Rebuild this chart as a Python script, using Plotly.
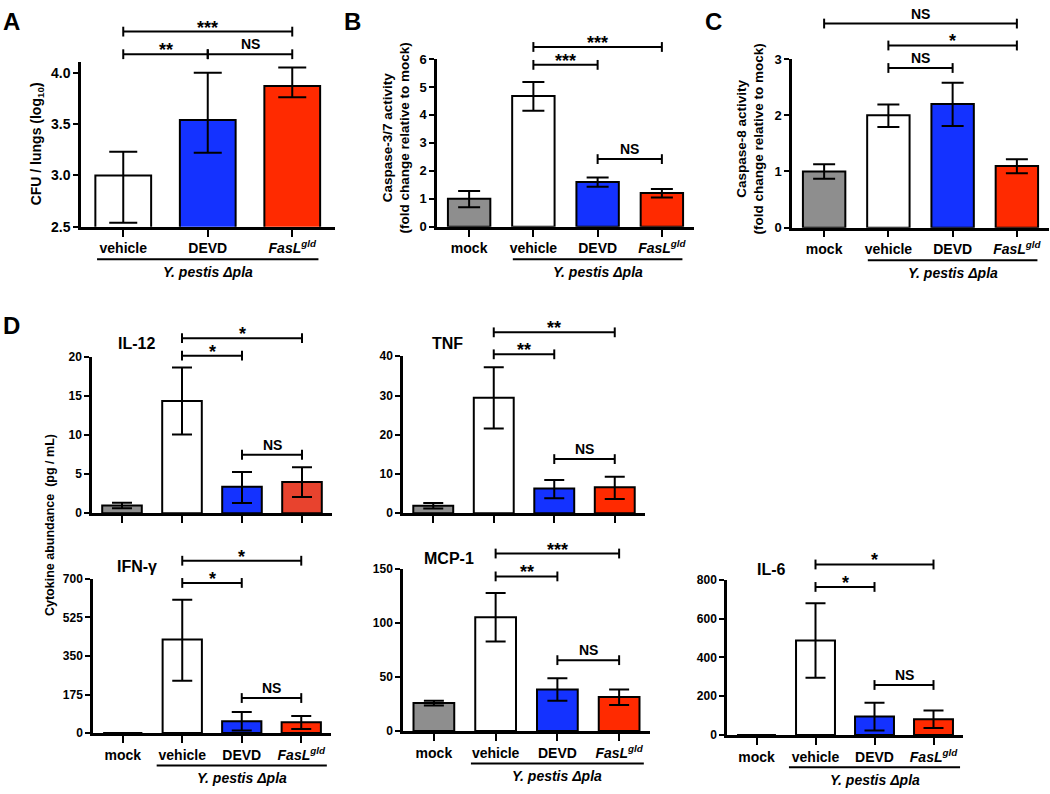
import plotly.graph_objects as go

# x categories
cats3 = ["vehicle", "DEVD", "<i>FasL<sup>gld</sup></i>"]
cats4 = ["mock", "vehicle", "DEVD", "<i>FasL<sup>gld</sup></i>"]

# A: CFU / lungs (log10) -- mean, upper and lower end of error bar
cfu_mean = [3.00, 3.54, 3.87]
cfu_hi = [3.23, 4.00, 4.05]
cfu_lo = [2.54, 3.22, 3.76]

# B: caspase-3/7 activity (fold change)
c37_mean = [1.00, 4.68, 1.60, 1.21]
c37_hi = [1.28, 5.18, 1.76, 1.35]
c37_lo = [0.70, 4.15, 1.43, 1.05]

# C: caspase-8 activity (fold change)
c8_mean = [1.00, 2.00, 2.20, 1.10]
c8_hi = [1.13, 2.19, 2.58, 1.22]
c8_lo = [0.87, 1.79, 1.81, 0.97]

# D: cytokines (pg / mL)
il12_mean = [1.0, 14.4, 3.4, 4.0]
il12_hi = [1.35, 18.7, 5.3, 5.9]
il12_lo = [0.65, 10.1, 1.3, 2.1]

tnf_mean = [1.9, 29.4, 6.3, 6.6]
tnf_hi = [2.6, 37.2, 8.5, 9.3]
tnf_lo = [1.2, 21.6, 3.8, 3.6]

ifn_mean = [0, 425, 54, 49]
ifn_hi = [0, 606, 95, 77]
ifn_lo = [0, 238, 12, 18]

mcp_mean = [26, 105.5, 38.5, 31.5]
mcp_hi = [28, 128, 49, 38.5]
mcp_lo = [23.7, 83, 28, 24.2]

il6_mean = [0, 487, 95, 81]
il6_hi = [0, 680, 166, 126]
il6_lo = [0, 296, 23, 36]

# significance brackets: (from group, to group, height in data units, label)
sig_a = [(0, 2, 4.40, "***"), (0, 1, 4.18, "**"), (1, 2, 4.18, "NS")]
sig_b = [(1, 3, 6.43, "***"), (1, 2, 5.79, "***"), (2, 3, 2.42, "NS")]
sig_c = [(0, 3, 3.63, "NS"), (1, 3, 3.24, "*"), (1, 2, 2.84, "NS")]
sig_il12 = [(1, 3, 22.45, "*"), (1, 2, 20.2, "*"), (2, 3, 7.5, "NS")]
sig_tnf = [(1, 3, 46.1, "**"), (1, 2, 40.5, "**"), (2, 3, 13.8, "NS")]
sig_ifn = [(1, 3, 783, "*"), (1, 2, 682, "*"), (2, 3, 159, "NS")]
sig_mcp = [(1, 3, 164.5, "***"), (1, 2, 143.3, "**"), (2, 3, 65.7, "NS")]
sig_il6 = [(1, 3, 880, "*"), (1, 2, 764, "*"), (2, 3, 258, "NS")]

GREY = "#8e8e8e"
WHITE = "#ffffff"
BLUE = "#1432ff"
RED = "#ff2a00"
RED2 = "#e8432e"
FONT = "Arial, Liberation Sans, Helvetica, sans-serif"

W, H = 1050, 794

# panel layout in pixels: (left, right), (top, bottom)
panels = [
    dict(cats=cats3, m=cfu_mean, hi=cfu_hi, lo=cfu_lo, col=[WHITE, BLUE, RED],
         px=(81, 334.5), py=(56.5, 224), yr=[2.5, 4.1], dt=0.5, fmt=".1f",
         sig=sig_a, cap=14, tf=14, labels=True, grp=0.31),
    dict(cats=cats4, m=c37_mean, hi=c37_hi, lo=c37_lo, col=[GREY, WHITE, BLUE, RED],
         px=(437, 694), py=(53, 224), yr=[0, 6], dt=1, fmt="d",
         sig=sig_b, cap=11, tf=13, labels=True, grp=0.32),
    dict(cats=cats4, m=c8_mean, hi=c8_hi, lo=c8_lo, col=[GREY, WHITE, BLUE, RED],
         px=(792, 1049), py=(53, 225), yr=[0, 3], dt=1, fmt="d",
         sig=sig_c, cap=11, tf=13, labels=True, grp=0.32),
    dict(cats=cats4, m=il12_mean, hi=il12_hi, lo=il12_lo, col=[GREY, WHITE, BLUE, RED2],
         px=(92, 332), py=(357, 516), yr=[0, 20], dt=5, fmt="d",
         sig=sig_il12, cap=10, tf=12, labels=False, grp=None),
    dict(cats=cats4, m=tnf_mean, hi=tnf_hi, lo=tnf_lo, col=[GREY, WHITE, BLUE, RED],
         px=(403, 645), py=(356, 516), yr=[0, 40], dt=10, fmt="d",
         sig=sig_tnf, cap=10, tf=12, labels=False, grp=None),
    dict(cats=cats4, m=ifn_mean, hi=ifn_hi, lo=ifn_lo, col=[GREY, WHITE, BLUE, RED],
         px=(93, 331), py=(583, 740), yr=[0, 700], dt=175, fmt="d",
         sig=sig_ifn, cap=10, tf=12, labels=True, grp=0.43),
    dict(cats=cats4, m=mcp_mean, hi=mcp_hi, lo=mcp_lo, col=[GREY, WHITE, BLUE, RED],
         px=(403, 650), py=(573, 738), yr=[0, 150], dt=50, fmt="d",
         sig=sig_mcp, cap=10, tf=12, labels=True, grp=0.40),
    dict(cats=cats4, m=il6_mean, hi=il6_hi, lo=il6_lo, col=[GREY, WHITE, BLUE, RED],
         px=(727, 963), py=(584, 742), yr=[0, 800], dt=200, fmt="d",
         sig=sig_il6, cap=10, tf=12, labels=True, grp=0.45),
]

fig = go.Figure()
shapes = []
annos = []


def line(xref, yref, x0, y0, x1, y1, w=2):
    shapes.append(dict(type="line", xref=xref, yref=yref, x0=x0, y0=y0, x1=x1, y1=y1,
                       line=dict(color="black", width=w)))


for k, p in enumerate(panels, start=1):
    xa = "x" if k == 1 else "x%d" % k
    ya = "y" if k == 1 else "y%d" % k
    n = len(p["cats"])
    fig.add_trace(go.Bar(
        x=p["cats"], y=p["m"], xaxis=xa, yaxis=ya, width=0.66, showlegend=False,
        marker=dict(color=p["col"], line=dict(color="black", width=2)),
        error_y=dict(type="data", symmetric=False,
                     array=[h - m for h, m in zip(p["hi"], p["m"])],
                     arrayminus=[m - l for m, l in zip(p["m"], p["lo"])],
                     color="black", thickness=2, width=p["cap"]),
    ))
    left, right = p["px"]
    top, bottom = p["py"]
    hpx = bottom - top
    fig.update_layout(**{
        ("xaxis" if k == 1 else "xaxis%d" % k): dict(
            domain=[left / W, right / W], anchor=ya, type="category",
            range=[-0.5, n - 0.5], showline=True, linecolor="black", linewidth=2.5,
            ticks="outside", ticklen=7, tickwidth=2, tickcolor="black",
            showticklabels=p["labels"], showgrid=False, zeroline=False,
            tickfont=dict(family=FONT, size=14, color="black", weight="bold")),
        ("yaxis" if k == 1 else "yaxis%d" % k): dict(
            domain=[1 - bottom / H, 1 - top / H], anchor=xa,
            range=p["yr"], tick0=p["yr"][0], dtick=p["dt"], tickformat=p["fmt"],
            showline=True, linecolor="black", linewidth=2.5,
            ticks="outside", ticklen=5, tickwidth=2, tickcolor="black",
            showgrid=False, zeroline=False,
            tickfont=dict(family=FONT, size=p["tf"], color="black", weight="bold")),
    })

    xr = xa + " domain"
    yr_ = ya + " domain"
    t = 5 / hpx
    for i, j, yv, lab in p["sig"]:
        x0 = (i + 0.5) / n
        x1 = (j + 0.5) / n
        yy = (yv - p["yr"][0]) / (p["yr"][1] - p["yr"][0])
        line(xr, yr_, x0, yy, x1, yy)
        line(xr, yr_, x0, yy - t, x0, yy + t)
        line(xr, yr_, x1, yy - t, x1, yy + t)
        star = lab != "NS"
        annos.append(dict(xref=xr, yref=yr_, x=(x0 + x1) / 2, y=yy, text=lab,
                          showarrow=False, xanchor="center", yanchor="middle",
                          yshift=4 if star else 10,
                          font=dict(family=FONT, size=18 if star else 14,
                                    color="black", weight="bold")))

    if p["grp"] is not None:
        g = p["grp"]
        gx0 = (n - 3 + 0.5 - g) / n
        gx1 = (n - 1 + 0.5 + g) / n
        gy = -33 / hpx
        line(xr, yr_, gx0, gy, gx1, gy, w=2)
        annos.append(dict(xref=xr, yref=yr_, x=(gx0 + gx1) / 2, y=gy, yshift=-13,
                          text="<i>Y. pestis Δpla</i>", showarrow=False,
                          xanchor="center", yanchor="middle",
                          font=dict(family=FONT, size=14, color="black", weight="bold")))


def ptext(x, y, text, size, angle=0):
    annos.append(dict(xref="paper", yref="paper", x=x / W, y=1 - y / H, text=text,
                      showarrow=False, xanchor="center", yanchor="middle", textangle=angle,
                      font=dict(family=FONT, size=size, color="black", weight="bold")))


# panel letters
ptext(11, 15, "A", 24)
ptext(352, 15, "B", 24)
ptext(713, 15, "C", 24)
ptext(11, 325, "D", 24)

# axis titles
ptext(37, 140, "CFU / lungs (log<sub>10</sub>)", 14, -90)
ptext(396, 134, "Caspase-3/7 activity<br>(fold change relative to mock)", 13.5, -90)
ptext(750, 135, "Caspase-8 activity<br>(fold change relative to mock)", 13.5, -90)
ptext(50, 528, "Cytokine abundance&nbsp; (pg / mL)", 12.5, -90)

# cytokine titles
ptext(136, 343, "IL-12", 16)
ptext(447, 343, "TNF", 16)
ptext(137, 570, "IFN-γ", 16)
ptext(449, 562, "MCP-1", 16)
ptext(771, 573, "IL-6", 16)

fig.update_layout(
    width=W, height=H, margin=dict(l=0, r=0, t=0, b=0),
    paper_bgcolor="white", plot_bgcolor="white",
    shapes=shapes, annotations=annos,
    font=dict(family=FONT, color="black"),
)

# the page's default body margin would push the figure off the window
fig.write_html("out.html", config={"displayModeBar": False},
               post_script="document.body.style.margin = '0px';")
